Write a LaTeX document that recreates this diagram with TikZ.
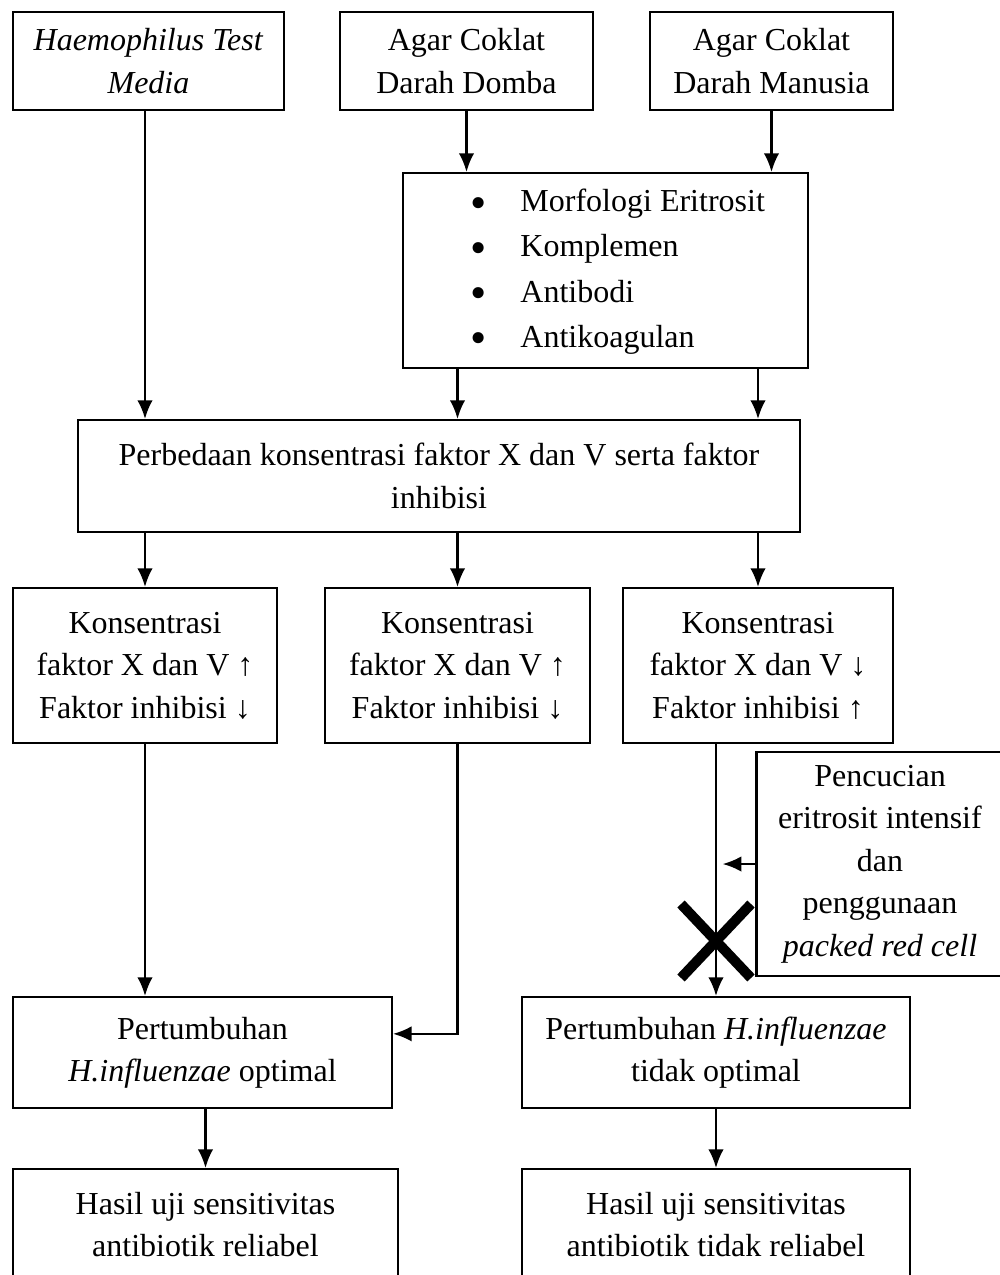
\documentclass[tikz,border=0pt]{standalone}
\usepackage{graphicx}
\usepackage{fontspec}
\setmainfont{Liberation Serif}
\usetikzlibrary{arrows.meta,positioning}
\newlength\pxu
\setlength\pxu{0.375pt}
\newcommand{\titik}{\raisebox{-0.2em}{\scalebox{1.45}{\textbullet}}}

\begin{document}
\begin{tikzpicture}[x=\pxu,y=-\pxu,line width=0.8pt,
   kotak/.style={draw,align=center,inner sep=0pt,font=\fontsize{12pt}{15.9pt}\selectfont},
   ukuran/.style 2 args={minimum width=#1*\pxu,minimum height=#2*\pxu},
   >={Latex[length=7pt,width=5.8pt]}]
   \useasboundingbox (0,0) rectangle (1000,1275);
   \clip (0,0) rectangle (1000,1275);
   % baris atas
   \node[kotak,ukuran={271}{98}] (hmedia) at (148.5,61) {\textit{Haemophilus Test}\\\textit{Media}};
   \node[kotak,ukuran={253}{98}] (domba) at (466.5,61) {Agar Coklat\\Darah Domba};
   \node[kotak,ukuran={243}{98}] (manusia) at (771.5,61) {Agar Coklat\\Darah Manusia};
   \node[kotak,ukuran={405}{195},font=\fontsize{12pt}{16.9pt}\selectfont] (daftar) at (605.5,270.5)
     {\begin{tabular}{@{\hspace{9.2pt}}l@{\hspace{12.6pt}}l@{}}
        \titik & Morfologi Eritrosit\\
        \titik & Komplemen\\
        \titik & Antibodi\\
        \titik & Antikoagulan
      \end{tabular}};
   \node[kotak,ukuran={722}{112}] (beda) at (439,476) {Perbedaan konsentrasi faktor X dan V serta faktor\\inhibisi};
   % tiga kondisi
   \node[kotak,ukuran={264}{155}] (naik1) at (145,665.5) {Konsentrasi\\faktor X dan V ↑\\Faktor inhibisi ↓};
   \node[kotak,ukuran={265}{155}] (naik2) at (457.5,665.5) {Konsentrasi\\faktor X dan V ↑\\Faktor inhibisi ↓};
   \node[kotak,ukuran={270}{155}] (turun) at (758,665.5) {Konsentrasi\\faktor X dan V ↓\\Faktor inhibisi ↑};
   \node[kotak,ukuran={247}{224}] (cuci) at (880,864) {Pencucian\\eritrosit intensif\\dan\\penggunaan\\\textit{packed red cell}};
   % hasil
   \node[kotak,ukuran={379}{111}] (optimal) at (202.5,1052.5) {Pertumbuhan\\\textit{H.influenzae} optimal};
   \node[kotak,ukuran={388}{111}] (gagal) at (716,1052.5) {Pertumbuhan \textit{H.influenzae}\\tidak optimal};
   \node[kotak,ukuran={385}{111}] (hasil1) at (205.5,1224.5) {Hasil uji sensitivitas\\antibiotik reliabel};
   \node[kotak,ukuran={388}{111}] (hasil2) at (716,1224.5) {Hasil uji sensitivitas\\antibiotik tidak reliabel};

   \draw[->] (hmedia.south -| naik1) -- (beda.north -| naik1);
   \draw[->] (domba) -- (domba |- daftar.north);
   \draw[->] (manusia) -- (manusia |- daftar.north);
   \draw[->] (daftar.south -| naik2) -- (beda.north -| naik2);
   \draw[->] (daftar.south -| turun) -- (beda.north -| turun);
   \draw[->] (beda.south -| naik1) -- (naik1.north);
   \draw[->] (beda.south -| naik2) -- (naik2.north);
   \draw[->] (beda.south -| turun) -- (turun.north);
   \draw[->] (naik1.south) -- (naik1.south |- optimal.north);
   \draw[->] (naik2.south) |- ([yshift=7pt]optimal.east);
   \draw[->] (turun.south -| gagal) -- (gagal.north);
   \draw[->,shorten >=2.5pt] (cuci.west) -- (cuci.west -| gagal);
   \draw[->] (optimal.south -| hasil1) -- (hasil1.north);
   \draw[->] (gagal) -- (hasil2);
   % tanda silang
   \coordinate (silang) at (716,941);
   \draw[line width=3.8pt] (silang) ++(-35,-37) -- ++(70,74)
     (silang) ++(-35,37) -- ++(70,-74);
\end{tikzpicture}
\end{document}
